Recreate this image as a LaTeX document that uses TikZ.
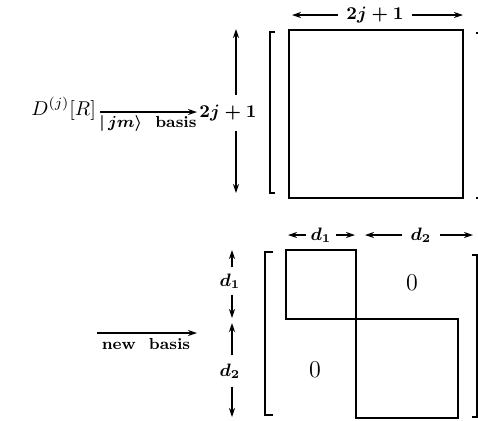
\documentclass[tikz,border=0pt]{standalone}
\usepackage{amsmath}
\usetikzlibrary{arrows.meta,positioning}

\begin{document}
\begin{tikzpicture}[x=0.5pt,y=-0.5pt]
    \tikzset{
        dimarrow/.style={
            -{Stealth[length=4.5pt,width=3pt]},
            line width=0.6pt
        },
        dimlabel/.style={inner sep=1pt,font=\small\boldmath},
        maplabel/.style={inner sep=0pt,font=\footnotesize\bfseries\boldmath},
        blockline/.style={line width=0.75pt},
        bracketline/.style={line width=0.75pt},
        zerolabel/.style={font=\large}
    }
    \useasboundingbox (0,0) rectangle (478,420);
    \clip (0,0) rectangle (478,420);

    % upper row: the full matrix in the |jm> basis
    \node[anchor=base west,inner sep=0pt] (drep) at (31,115) {$D^{(j)}[R]$};
    \coordinate (jmstart) at (100,112);
    \coordinate (jmend) at (197,112);
    \draw[dimarrow] (jmstart) -- (jmend);
    \node[maplabel,anchor=base] (jmlabel) at (148,127) {$|\,jm\rangle$\ \ basis};

    \node[dimlabel,inner ysep=5pt] (sidelabel) at (228,113) {$2j+1$};
    \coordinate (sidetop) at (236,29);
    \coordinate (sidebot) at (236,193);
    \draw[dimarrow] (sidelabel.north -| sidetop) -- (sidetop);
    \draw[dimarrow] (sidelabel.south -| sidebot) -- (sidebot);

    \node[dimlabel,inner xsep=4pt] (toplabel) at (375,15) {$2j+1$};
    \coordinate (topleft) at (292,15);
    \coordinate (topright) at (463,15);
    \draw[dimarrow] (toplabel.west) -- (topleft);
    \draw[dimarrow] (toplabel.east) -- (topright);

    \draw[blockline] (289,30) rectangle (463,198);
    \draw[bracketline] (275,32) -- (270,32) -- (270,193) -- (275,193);
    \draw[bracketline] (476,33) -- (481,33) -- (481,198) -- (476,198);

    % lower row: block diagonal form in the new basis
    \coordinate (newstart) at (97,333);
    \coordinate (newend) at (197,333);
    \draw[dimarrow] (newstart) -- (newend);
    \node[maplabel,anchor=base] (newlabel) at (146,349) {new\ \ basis};

    \node[dimlabel,inner xsep=2pt] (dalabel) at (321,235) {$d_1$};
    \coordinate (daleft) at (288,235);
    \coordinate (daright) at (355,235);
    \draw[dimarrow] (dalabel.west) -- (daleft);
    \draw[dimarrow] (dalabel.east) -- (daright);

    \node[dimlabel,inner xsep=4pt] (dblabel) at (421,235) {$d_2$};
    \coordinate (dbleft) at (365,235);
    \coordinate (dbright) at (473,235);
    \draw[dimarrow] (dblabel.west) -- (dbleft);
    \draw[dimarrow] (dblabel.east) -- (dbright);

    \node[dimlabel,inner ysep=3pt] (dcside) at (230,281) {$d_1$};
    \coordinate (dctop) at (232,250);
    \coordinate (dcbot) at (232,318);
    \draw[dimarrow] (dcside.north -| dctop) -- (dctop);
    \draw[dimarrow] (dcside.south -| dcbot) -- (dcbot);

    \node[dimlabel,inner ysep=4pt] (ddside) at (230,371) {$d_2$};
    \coordinate (ddtop) at (232,323);
    \coordinate (ddbot) at (232,417);
    \draw[dimarrow] (ddside.north -| ddtop) -- (ddtop);
    \draw[dimarrow] (ddside.south -| ddbot) -- (ddbot);

    \draw[blockline] (286,250) rectangle (356,319);
    \draw[blockline] (356,319) rectangle (458,418);
    \node[zerolabel] (zeroup) at (412,283) {$0$};
    \node[zerolabel] (zerolow) at (315,370) {$0$};

    \draw[bracketline] (273,252) -- (265,252) -- (265,415) -- (273,415);
    \draw[bracketline] (472,255) -- (477,255) -- (477,417) -- (472,417);
\end{tikzpicture}
\end{document}
